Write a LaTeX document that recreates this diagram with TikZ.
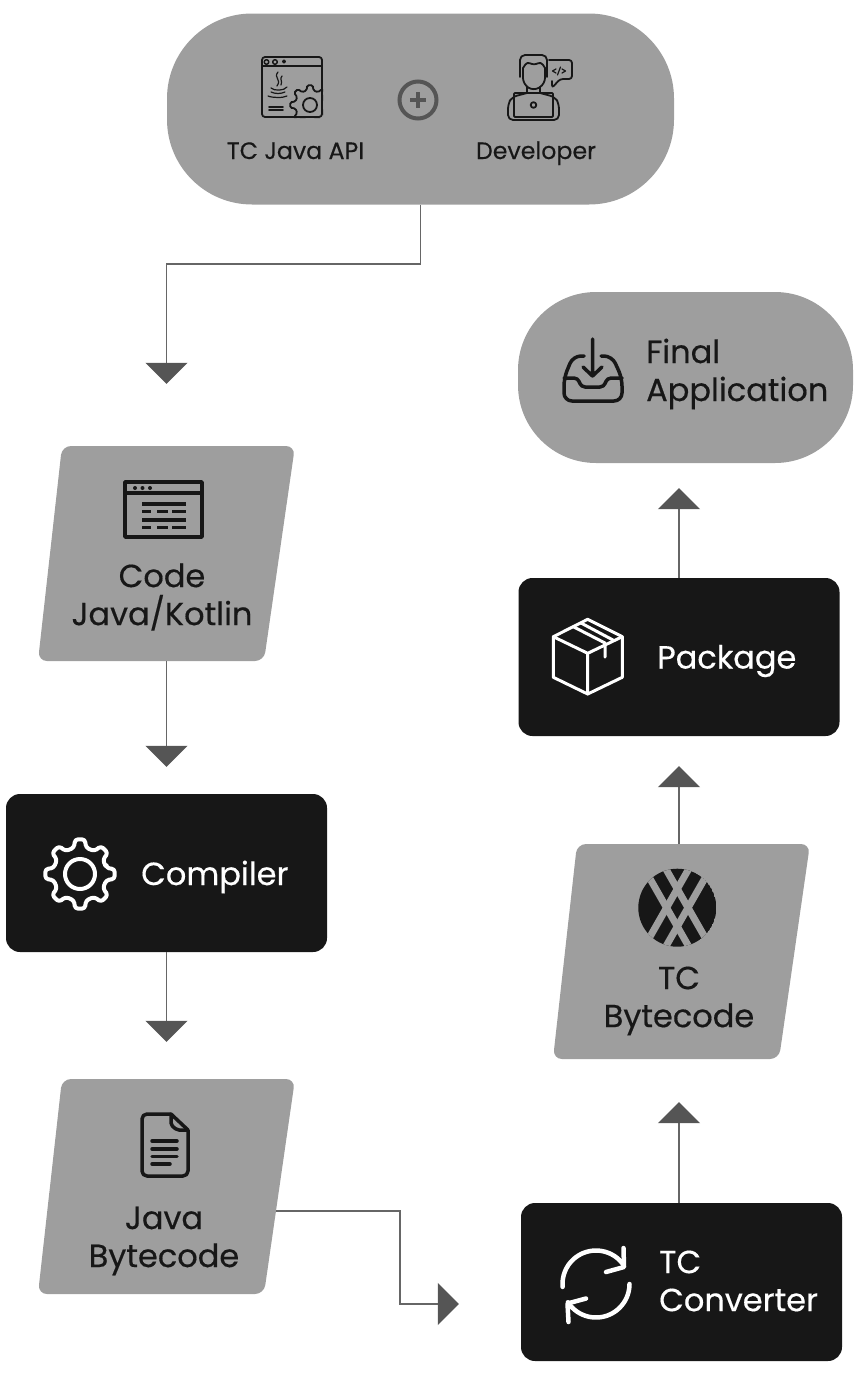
\documentclass[tikz,border=0pt]{standalone}
\usepackage{fontspec}
\setmainfont{Poppins}[RawFeature={embolden=0.4}]
\usetikzlibrary{arrows.meta}
\definecolor{boxgrey}{HTML}{9E9E9E}
\definecolor{boxblack}{HTML}{171717}
\definecolor{flowline}{HTML}{666666}
\definecolor{flowtip}{HTML}{555555}
\tikzset{
  pillbox/.style={fill=boxgrey,inner sep=0pt},
  darkbox/.style={fill=boxblack,inner sep=0pt,minimum width=321pt,minimum height=158pt,rounded corners=14pt},
  slantbox/.style={inner sep=0pt,minimum width=219pt,minimum height=215pt},
  slantfill/.pic={\fill[boxgrey,rounded corners=9pt] (-104,-107.5)--(129,-107.5)--(98,107.5)--(-128,107.5)--cycle;},
  bigtext/.style={text=boxblack,font=\fontsize{32}{38}\selectfont,inner sep=0pt,align=center},
  bigwhite/.style={bigtext,text=white,align=left},
  smalltext/.style={text=boxblack,font=\fontsize{23.7}{28}\selectfont,inner sep=0pt,anchor=base},
  flow/.style={draw=flowline,line width=1.5pt,-{Triangle[width=42pt,length=21pt,color=flowtip]}},
  icondark/.style={draw=boxblack,line width=3.5pt,line cap=round,line join=round},
  iconthin/.style={draw=boxblack,line width=1.8pt,line cap=round,line join=round},
  iconwhite/.style={draw=white,line width=3pt,line cap=round,line join=round},
  iconsync/.style={draw=white,line width=4.5pt,line cap=round,line join=round},
}
% cx, cy, outer radius, body radius
\newcommand{\gearpath}[4]{%
  ({#1+#4*cos(-13)},{#2+#4*sin(-13)})
  \foreach \a [evaluate=\a as \b using \a-8, evaluate=\a as \c using \a+8, evaluate=\a as \d using \a+13, evaluate=\a as \e using \a+32] in {0,45,...,315} {
    -- ({#1+#3*cos(\b)},{#2+#3*sin(\b)}) -- ({#1+#3*cos(\c)},{#2+#3*sin(\c)}) -- ({#1+#4*cos(\d)},{#2+#4*sin(\d)}) -- ({#1+#4*cos(\e)},{#2+#4*sin(\e)})
  }}
\begin{document}
\begin{tikzpicture}[x=1pt,y=-1pt]
\useasboundingbox (0,0) rectangle (859,1373);
% boxes
\pic at (166,553.5) {slantfill};
\pic at (166,1186.5) {slantfill};
\pic at (681,951.5) {slantfill};
\node[pillbox,minimum width=507pt,minimum height=191pt,rounded corners=85pt] (start) at (420.5,109) {};
\node[pillbox,minimum width=335pt,minimum height=171pt,rounded corners=78pt] (final) at (685.5,377.5) {};
\node[darkbox] (package) at (679,657) {};
\node[darkbox] (compiler) at (166.5,873) {};
\node[darkbox] (converter) at (681.5,1282) {};
\node[slantbox] (code) at (166.5,553.5) {};
\node[slantbox] (java) at (166.5,1186.5) {};
\node[slantbox] (bytecode) at (679,951.5) {};
% texts
\node[smalltext] (apitext) at (295.5,159) {TC Java API};
\node[smalltext] (devtext) at (536,159) {Developer};
\node[bigtext] (codetext) at (162,597) {Code\\Java/Kotlin};
\node[bigtext] (javatext) at (164,1241) {Java\\Bytecode};
\node[bigtext] (bytetext) at (679,1001) {TC\\Bytecode};
\node[bigtext,align=left,anchor=west] (finaltext) at (646,374) {Final\\Application};
\node[bigwhite,anchor=west] (packtext) at (657,661) {Package};
\node[bigwhite,anchor=west] (comptext) at (141,877) {Compiler};
\node[bigwhite,anchor=west] (convtext) at (659,1281) {TC\\Converter};
% connectors
\coordinate (turn) at (166.5,264);
\coordinate (bend) at (400,1304);
\draw[flow,shorten >=62pt] (start.south) |- (turn) -- (code.north);
\draw[flow,shorten >=27pt] (code.south) -- (compiler.north);
\draw[flow,shorten >=37pt] (compiler.south) -- (java.north);
\draw[flow,shorten >=62pt] ([yshift=-24.5pt]java.east) -| (bend) -- (converter.west |- bend);
\draw[flow,shorten >=43pt] (bytecode.south |- converter.north) -- (bytecode.south);
\draw[flow,shorten >=30pt] (bytecode.north) -- (package.south);
\draw[flow,shorten >=25pt] (package.north) -- (package.north |- final.south);
% plus
\draw[flowtip,line width=4pt] (418,100) circle (18.5);
\draw[flowtip,line width=4.5pt] (410,100)--(426,100) (418,92)--(418,108);
% java window
\draw[iconthin,line width=1.5pt] (266.5,62) circle (2.3) (275,62) circle (2.3) (284,61.5) circle (1.3);
\draw[iconthin] (262,66)--(322,66);
\draw[iconthin,line width=1.2pt] (278,72) .. controls (273,78) and (282,79) .. (277,86);
\draw[iconthin,line width=1.2pt] (282,76) .. controls (279,79) and (283,81) .. (281,85);
\draw[iconthin,line width=1.2pt] (271,88) .. controls (274,91) and (284,91) .. (287,87);
\draw[iconthin,line width=1.2pt] (271,92) .. controls (275,94) and (281,94) .. (285,92);
\draw[iconthin,line width=1.2pt] (268,96) .. controls (273,98) and (283,98) .. (287,96);
\draw[iconthin] (269,107)--(283,107) (269,110)--(283,110);
\begin{scope}
\clip[rounded corners=3pt] (262,57) rectangle (323,118);
\fill[boxgrey,draw=boxblack,line width=1.8pt,rounded corners=1.5pt] \gearpath{310}{105}{20}{15} -- cycle;
\draw[iconthin] (310,105) circle (7);
\end{scope}
\draw[iconthin,rounded corners=3pt] (262,57) rectangle (322,117);
% developer
\draw[iconthin,rounded corners=5pt] (520,77)--(520,55)--(547,55)--(547,77);
\draw[iconthin,rounded corners=6pt] (523,68)--(523,84)--(533.5,91)--(545,84)--(545,68);
\draw[iconthin,rounded corners=3pt] (523,68)--(527,62)--(534,65)--(541,62)--(545,68);
\draw[iconthin] (527,87)--(527,93) (540,87)--(540,93);
\draw[iconthin,rounded corners=5pt] (527,93)--(512,97)--(508,104)--(508,120)--(559,120)--(559,104)--(555,97)--(540,93);
\draw[iconthin,rounded corners=1pt] (514,117)--(514,93)--(553,93)--(553,117)--cycle;
\draw[iconthin] (533.5,105) circle (2.8);
\draw[iconthin,rounded corners=3pt] (549,60)--(572,60)--(572,79)--(560,79)--(552,88)--(552,81);
\draw[iconthin,line width=1.2pt] (556,69)--(552.5,71)--(556,73) (562,69)--(565.5,71)--(562,73) (560.5,67)--(557.5,75);
% code window
\draw[icondark] (125,482) rectangle (202,537) (125,493)--(202,493);
\fill[boxblack] (135,488) circle (2) (142.5,488) circle (2) (150,488) circle (2);
\draw[icondark,line cap=butt] (142,504)--(186,504) (142,520)--(186,520);
\foreach \y in {511.5,527.5} {
  \draw[icondark,line cap=butt] (142,\y)--(151,\y) (157,\y)--(168,\y) (172,\y)--(186,\y);
}
% gear
\draw[iconwhite,line width=4pt,rounded corners=3pt] \gearpath{80}{874}{35}{27} -- cycle;
\draw[iconwhite,line width=4pt] (80,874) circle (15);
% document
\draw[icondark,rounded corners=5pt] (171,1114)--(142,1114)--(142,1176)--(188,1176)--(188,1130);
\draw[icondark] (171,1114)--(188,1130);
\draw[icondark,rounded corners=2pt] (171,1114)--(171,1125)--(177,1130)--(188,1130);
\draw[icondark] (152,1141)--(177,1141) (152,1149)--(177,1149) (152,1156.5)--(177,1156.5) (152,1164)--(170,1164);
% tc logo
\begin{scope}
\clip (677.3,907.7) circle (39);
\fill[boxblack] (677.3,907.7) circle (39);
\foreach \sx in {1,-1} \foreach \sy in {1,-1} {
  \draw[boxgrey,line width=7pt] ({677.3+\sx*8.1-\sy*24.8*1.2},{907.7-\sx*\sy*4.6-43.4*1.2})--({677.3+\sx*8.1+\sy*24.8*1.2},{907.7-\sx*\sy*4.6+43.4*1.2});
}
\end{scope}
% inbox
\draw[icondark,rounded corners=8pt] (584,356)--(573,356)--(564,378)--(564,401)--(622,401)--(622,378)--(612,356)--(601,356);
\draw[icondark,rounded corners=4pt] (564,378)--(578,378)--(581,387)--(604,387)--(607,378)--(622,378);
\draw[icondark] (592.5,339)--(592.5,376) (583,367)--(592.5,376)--(602,367);
% package
\draw[iconwhite] (587.7,619.3)--(622.3,636.7)--(622.3,677.3)--(587.7,694)--(553.3,677.3)--(553.3,636.7)--cycle;
\draw[iconwhite] (553.3,636.7)--(587.7,653.3)--(622.3,636.7) (587.7,653.3)--(587.7,694);
\draw[iconwhite] (573.3,626.7)--(605,643)--(605,657) (581,623)--(613,640);
% sync
\draw[iconsync] plot[smooth,domain=175:325,samples=20] ({596+33.5*cos(\x)},{1284+33.5*sin(\x)});
\draw[iconsync] plot[smooth,domain=0:147,samples=20] ({596+33.5*cos(\x)},{1284+33.5*sin(\x)});
\draw[iconsync] (623.5,1248)--(624,1267)--(606,1272);
\draw[iconsync] (568.5,1322)--(567.5,1303.5)--(586,1298.5);
\end{tikzpicture}
\end{document}
